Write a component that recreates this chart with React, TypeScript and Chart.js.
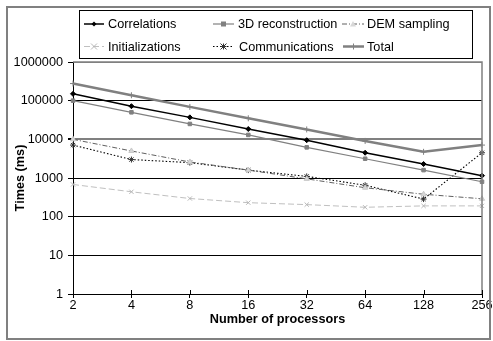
import React, { useEffect, useRef } from "react";
import { Chart, registerables } from "chart.js";

Chart.register(...registerables);

const categories = ["2", "4", "8", "16", "32", "64", "128", "256"];
const correlations = [150000, 72000, 37000, 18500, 9500, 4500, 2300, 1150];
const reconstruction3D = [100000, 50000, 25000, 13000, 6200, 3150, 1600, 800];
const demSampling = [10000, 5000, 2600, 1600, 950, 560, 380, 290];
const initializations = [680, 440, 295, 230, 205, 175, 190, 190];
const communications = [7100, 3000, 2500, 1600, 1100, 650, 285, 4500];
const total = [277000, 138000, 69000, 35000, 18000, 9100, 4750, 7100];
const yTickValues = [1, 10, 100, 1000, 10000, 100000, 1000000];

const FONT = "'Liberation Sans', Arial, sans-serif";
const FS = 12.7;

type Sty = {
  label: string;
  data: number[];
  color: string;
  width: number;
  dash: number[];
  point: string;
  radius: number;
  pfill: string;
  pstroke: string;
};

const series: Sty[] = [
  { label: "Correlations", data: correlations, color: "#000000", width: 1.5, dash: [], point: "rectRot", radius: 2.5, pfill: "#000", pstroke: "#000" },
  { label: "3D reconstruction", data: reconstruction3D, color: "#808080", width: 1.2, dash: [], point: "rect", radius: 2.5, pfill: "#808080", pstroke: "#808080" },
  { label: "DEM sampling", data: demSampling, color: "#606060", width: 1, dash: [5, 2, 1, 2], point: "triangle", radius: 3, pfill: "#d8d8d8", pstroke: "#c8c8c8" },
  { label: "Initializations", data: initializations, color: "#c0c0c0", width: 1, dash: [6, 3], point: "crossRot", radius: 3, pfill: "#c0c0c0", pstroke: "#b8b8b8" },
  { label: "Communications", data: communications, color: "#000000", width: 1.1, dash: [1.5, 2], point: "star", radius: 3, pfill: "#333", pstroke: "#333" },
  { label: "Total", data: total, color: "#808080", width: 2.5, dash: [], point: "cross", radius: 3, pfill: "#808080", pstroke: "#808080" },
];

function drawMarker(ctx: CanvasRenderingContext2D, s: Sty, x: number, y: number) {
  const r = s.radius;
  ctx.save();
  ctx.setLineDash([]);
  ctx.fillStyle = s.pfill;
  ctx.strokeStyle = s.pstroke;
  ctx.lineWidth = 1;
  ctx.beginPath();
  switch (s.point) {
    case "rectRot":
      ctx.moveTo(x, y - r);
      ctx.lineTo(x + r, y);
      ctx.lineTo(x, y + r);
      ctx.lineTo(x - r, y);
      ctx.closePath();
      ctx.fill();
      break;
    case "rect":
      ctx.rect(x - r, y - r, 2 * r, 2 * r);
      ctx.fill();
      break;
    case "triangle":
      ctx.moveTo(x, y - r);
      ctx.lineTo(x + r, y + r * 0.8);
      ctx.lineTo(x - r, y + r * 0.8);
      ctx.closePath();
      ctx.fill();
      break;
    case "crossRot":
      ctx.moveTo(x - r, y - r);
      ctx.lineTo(x + r, y + r);
      ctx.moveTo(x + r, y - r);
      ctx.lineTo(x - r, y + r);
      ctx.stroke();
      break;
    case "star":
      ctx.moveTo(x - r, y - r);
      ctx.lineTo(x + r, y + r);
      ctx.moveTo(x + r, y - r);
      ctx.lineTo(x - r, y + r);
      ctx.moveTo(x, y - r);
      ctx.lineTo(x, y + r);
      ctx.moveTo(x - r, y);
      ctx.lineTo(x + r, y);
      ctx.stroke();
      break;
    case "cross":
      ctx.moveTo(x, y - r);
      ctx.lineTo(x, y + r);
      ctx.moveTo(x - r, y);
      ctx.lineTo(x + r, y);
      ctx.stroke();
      break;
  }
  ctx.restore();
}

const legendPos = [
  { x1: 84, x2: 104, tx: 108, y: 24 },
  { x1: 213, x2: 234, tx: 238, y: 24 },
  { x1: 342, x2: 364, tx: 367, y: 24 },
  { x1: 84, x2: 104, tx: 108, y: 46.5 },
  { x1: 213, x2: 234, tx: 239, y: 46.5 },
  { x1: 343, x2: 364, tx: 367, y: 46.5 },
];

const decorPlugin = {
  id: "decor",
  beforeDraw(chart: any) {
    const ctx = chart.ctx as CanvasRenderingContext2D;
    ctx.save();
    ctx.fillStyle = "#ffffff";
    ctx.fillRect(0, 0, chart.width, chart.height);
    ctx.restore();
  },
  afterDraw(chart: any) {
    const ctx = chart.ctx as CanvasRenderingContext2D;
    const a = chart.chartArea;
    ctx.save();
    ctx.strokeStyle = "#808080";
    ctx.lineWidth = 1.5;
    ctx.beginPath();
    ctx.moveTo(a.left, a.top);
    ctx.lineTo(a.right, a.top);
    ctx.lineTo(a.right, a.bottom);
    ctx.stroke();
    const xs = chart.scales.x;
    ctx.strokeStyle = "#000";
    ctx.lineWidth = 1;
    ctx.beginPath();
    for (let i = 0; i < categories.length; i++) {
      const px = Math.round(xs.getPixelForTick(i)) + 0.5;
      ctx.moveTo(px, a.bottom);
      ctx.lineTo(px, a.bottom - 4);
    }
    ctx.stroke();
    ctx.strokeStyle = "#808080";
    ctx.lineWidth = 2;
    ctx.strokeRect(7, 7, 483, 332);
    ctx.strokeStyle = "#000";
    ctx.lineWidth = 1;
    ctx.fillStyle = "#fff";
    ctx.fillRect(79.5, 10.5, 393, 48);
    ctx.strokeRect(79.5, 10.5, 393, 48);
    ctx.font = `${FS}px ${FONT}`;
    ctx.textBaseline = "middle";
    ctx.textAlign = "left";
    series.forEach((s, i) => {
      const p = legendPos[i];
      ctx.save();
      ctx.strokeStyle = s.color;
      ctx.lineWidth = s.width;
      ctx.setLineDash(s.dash);
      ctx.beginPath();
      ctx.moveTo(p.x1, p.y);
      ctx.lineTo(p.x2, p.y);
      ctx.stroke();
      ctx.restore();
      drawMarker(ctx, s, (p.x1 + p.x2) / 2, p.y);
      ctx.fillStyle = "#000";
      ctx.fillText(s.label, p.tx, p.y + 0.5);
    });
    ctx.restore();
  },
};

export default function App() {
  const ref = useRef<HTMLCanvasElement>(null);
  useEffect(() => {
    if (!ref.current) return;
    const chart = new Chart(ref.current, {
      type: "line",
      data: {
        labels: categories,
        datasets: series.map((s) => ({
          label: s.label,
          data: s.data,
          borderColor: s.color,
          borderWidth: s.width,
          borderDash: s.dash,
          pointStyle: s.point as any,
          pointRadius: s.radius,
          pointBackgroundColor: s.pfill,
          pointBorderColor: s.pstroke,
          pointBorderWidth: 1,
          fill: false,
          tension: 0,
        })),
      },
      options: {
        responsive: false,
        animation: false,
        layout: { padding: { top: 62, right: 11, left: 0, bottom: 0 } },
        plugins: { legend: { display: false }, tooltip: { enabled: false } },
        scales: {
          x: {
            offset: false,
            grid: {
              drawOnChartArea: false,
              drawTicks: true,
              tickLength: 4,
              color: "#000",
              offset: false,
            },
            border: { color: "#000", width: 1 },
            ticks: {
              color: "#000",
              font: { family: FONT, size: FS },
              padding: 0,
              maxRotation: 0,
              autoSkip: false,
            },
            title: {
              display: true,
              text: "Number of processors",
              color: "#000",
              font: { family: FONT, size: FS, weight: "bold" },
              padding: { top: 0, bottom: 14 },
            },
            afterFit: (s: any) => {
              s.height = 47;
            },
          },
          y: {
            type: "logarithmic",
            min: 1,
            max: 1000000,
            afterBuildTicks: (s: any) => {
              s.ticks = yTickValues.map((v) => ({ value: v }));
            },
            grid: {
              color: (c: any) =>
                c.tick && (c.tick.value === 10000 || c.tick.value === 1000000) ? "#808080" : "#000",
              lineWidth: (c: any) => (c.tick && c.tick.value === 10000 ? 2 : 1),
              tickColor: "#000",
              tickLength: 5,
            },
            border: { color: "#000", width: 1 },
            ticks: {
              color: "#000",
              font: { family: FONT, size: FS },
              padding: 5,
              callback: (v: any) => String(v),
            },
            title: {
              display: true,
              text: "Times (ms)",
              color: "#000",
              font: { family: FONT, size: FS, weight: "bold" },
              padding: { top: 13, bottom: 0 },
            },
            afterFit: (s: any) => {
              s.width = 73;
            },
          },
        },
      },
      plugins: [decorPlugin],
    });
    return () => chart.destroy();
  }, []);
  return (
    <div style={{ position: "absolute", left: 0, top: 0, width: 493, height: 341 }}>
      <canvas ref={ref} width={493} height={341} style={{ display: "block" }} />
    </div>
  );
}
